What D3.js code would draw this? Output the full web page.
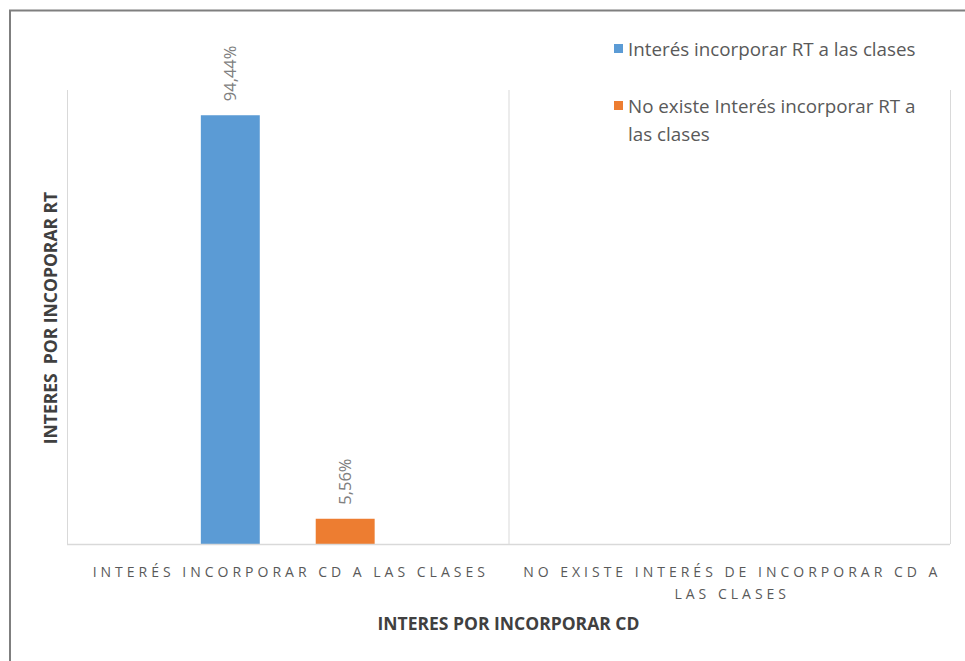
<!DOCTYPE html>
<html>
<head>
<meta charset="utf-8">
<script src="https://cdn.jsdelivr.net/npm/d3@7"></script>
<style>
  html, body { margin: 0; padding: 0; background: #fff; }
  svg { display: block; }
</style>
</head>
<body>
<svg id="chart" width="965" height="661"></svg>
<script>
// Categories on the horizontal axis (each may wrap over several lines)
const categories = [
  ["INTERÉS INCORPORAR CD A LAS CLASES"],
  ["NO EXISTE INTERÉS DE INCORPORAR CD A", "LAS CLASES"]
];
const categoryKeys = ["c1", "c2"];

// Series names as shown in the legend
const seriesNames = ["Interés incorporar RT a las clases", "No existe Interés incorporar RT a las clases"];
const seriesLegendLines = [
  ["Interés incorporar RT a las clases"],
  ["No existe Interés incorporar RT a", "las clases"]
];
const seriesColors = ["#5b9bd5", "#ed7d31"];

// Values (percent) per category for each series; null = no bar
const interesValues = [94.44, null];
const noInteresValues = [5.56, null];

const xTitle = "INTERES POR INCORPORAR CD";
const yTitle = "INTERES  POR INCOPORAR RT";

const svg = d3.select("#chart");
const W = 965, H = 661;
const plot = { left: 67, right: 950, top: 90, bottom: 544 };
const font = "'Open Sans', 'Liberation Sans', sans-serif";
const grid = "#d9d9d9";

// outer frame
svg.append("path")
  .attr("d", `M10,${H} V10.5 H${W}`)
  .attr("fill", "none")
  .attr("stroke", "#7f7f7f")
  .attr("stroke-width", 2);

const x = d3.scaleBand().domain(categoryKeys).range([plot.left, plot.right]).paddingInner(0).paddingOuter(0);
const xs = d3.scaleBand().domain(d3.range(seriesNames.length)).range([0, x.bandwidth()])
  .paddingInner(0.487).paddingOuter(1.165);
const y = d3.scaleLinear().domain([0, 100]).range([plot.bottom, plot.top]);

// vertical category separators
const seps = [plot.left, ...categoryKeys.map(k => x(k) + x.bandwidth())];
svg.append("g").selectAll("line").data(seps).join("line")
  .attr("x1", d => d + 0.5).attr("x2", d => d + 0.5)
  .attr("y1", y(100)).attr("y2", plot.bottom)
  .attr("stroke", grid).attr("stroke-width", 1);

// bars
const seriesValues = [interesValues, noInteresValues];
const barData = [];
seriesValues.forEach((vals, s) => vals.forEach((v, c) => {
  if (v != null) barData.push({ s, c, v });
}));
const fmt = v => d3.format(".2f")(v).replace(".", ",") + "%";

svg.append("g").selectAll("rect").data(barData).join("rect")
  .attr("x", d => x(categoryKeys[d.c]) + xs(d.s))
  .attr("width", xs.bandwidth())
  .attr("y", d => y(d.v))
  .attr("height", d => y(0) - y(d.v))
  .attr("fill", d => seriesColors[d.s]);

// value labels, rotated
svg.append("g").selectAll("text").data(barData).join("text")
  .attr("transform", d => `translate(${x(categoryKeys[d.c]) + xs(d.s) + xs.bandwidth() / 2 + 6},${y(d.v) - 14}) rotate(-90)`)
  .attr("font-family", font).attr("font-size", 16.5)
  .attr("fill", "#808080")
  .attr("text-anchor", "start")
  .text(d => fmt(d.v));

// baseline
svg.append("line")
  .attr("x1", plot.left).attr("x2", plot.right)
  .attr("y1", plot.bottom + 0.5).attr("y2", plot.bottom + 0.5)
  .attr("stroke", grid).attr("stroke-width", 1.5);

// category labels
const catG = svg.append("g");
categories.forEach((lines, i) => {
  const cx = x(categoryKeys[i]) + x.bandwidth() / 2;
  lines.forEach((ln, j) => {
    catG.append("text")
      .attr("x", cx + 3).attr("y", 577 + j * 22)
      .attr("text-anchor", "middle")
      .attr("font-family", font).attr("font-size", 14)
      .attr("letter-spacing", "4px")
      .attr("fill", "#595959")
      .text(ln);
  });
});

// axis titles
svg.append("text")
  .attr("x", (plot.left + plot.right) / 2).attr("y", 630)
  .attr("text-anchor", "middle")
  .attr("font-family", font).attr("font-size", 17.5).attr("font-weight", "bold")
  .attr("fill", "#404040")
  .text(xTitle);

svg.append("text")
  .attr("transform", `translate(57,318) rotate(-90)`)
  .attr("text-anchor", "middle")
  .attr("font-family", font).attr("font-size", 17.5).attr("font-weight", "bold")
  .attr("fill", "#404040")
  .attr("xml:space", "preserve")
  .style("white-space", "pre")
  .text(yTitle);

// legend
const legend = svg.append("g");
const legendTops = [44, 101];
seriesNames.forEach((name, i) => {
  const top = legendTops[i];
  legend.append("rect")
    .attr("x", 614).attr("y", top).attr("width", 9).attr("height", 9)
    .attr("fill", seriesColors[i]);
  seriesLegendLines[i].forEach((ln, j) => {
    legend.append("text")
      .attr("x", 628).attr("y", top + 12 + j * 28)
      .attr("font-family", font).attr("font-size", 18.8)
      .attr("fill", "#595959")
      .text(ln);
  });
});
</script>
</body>
</html>
